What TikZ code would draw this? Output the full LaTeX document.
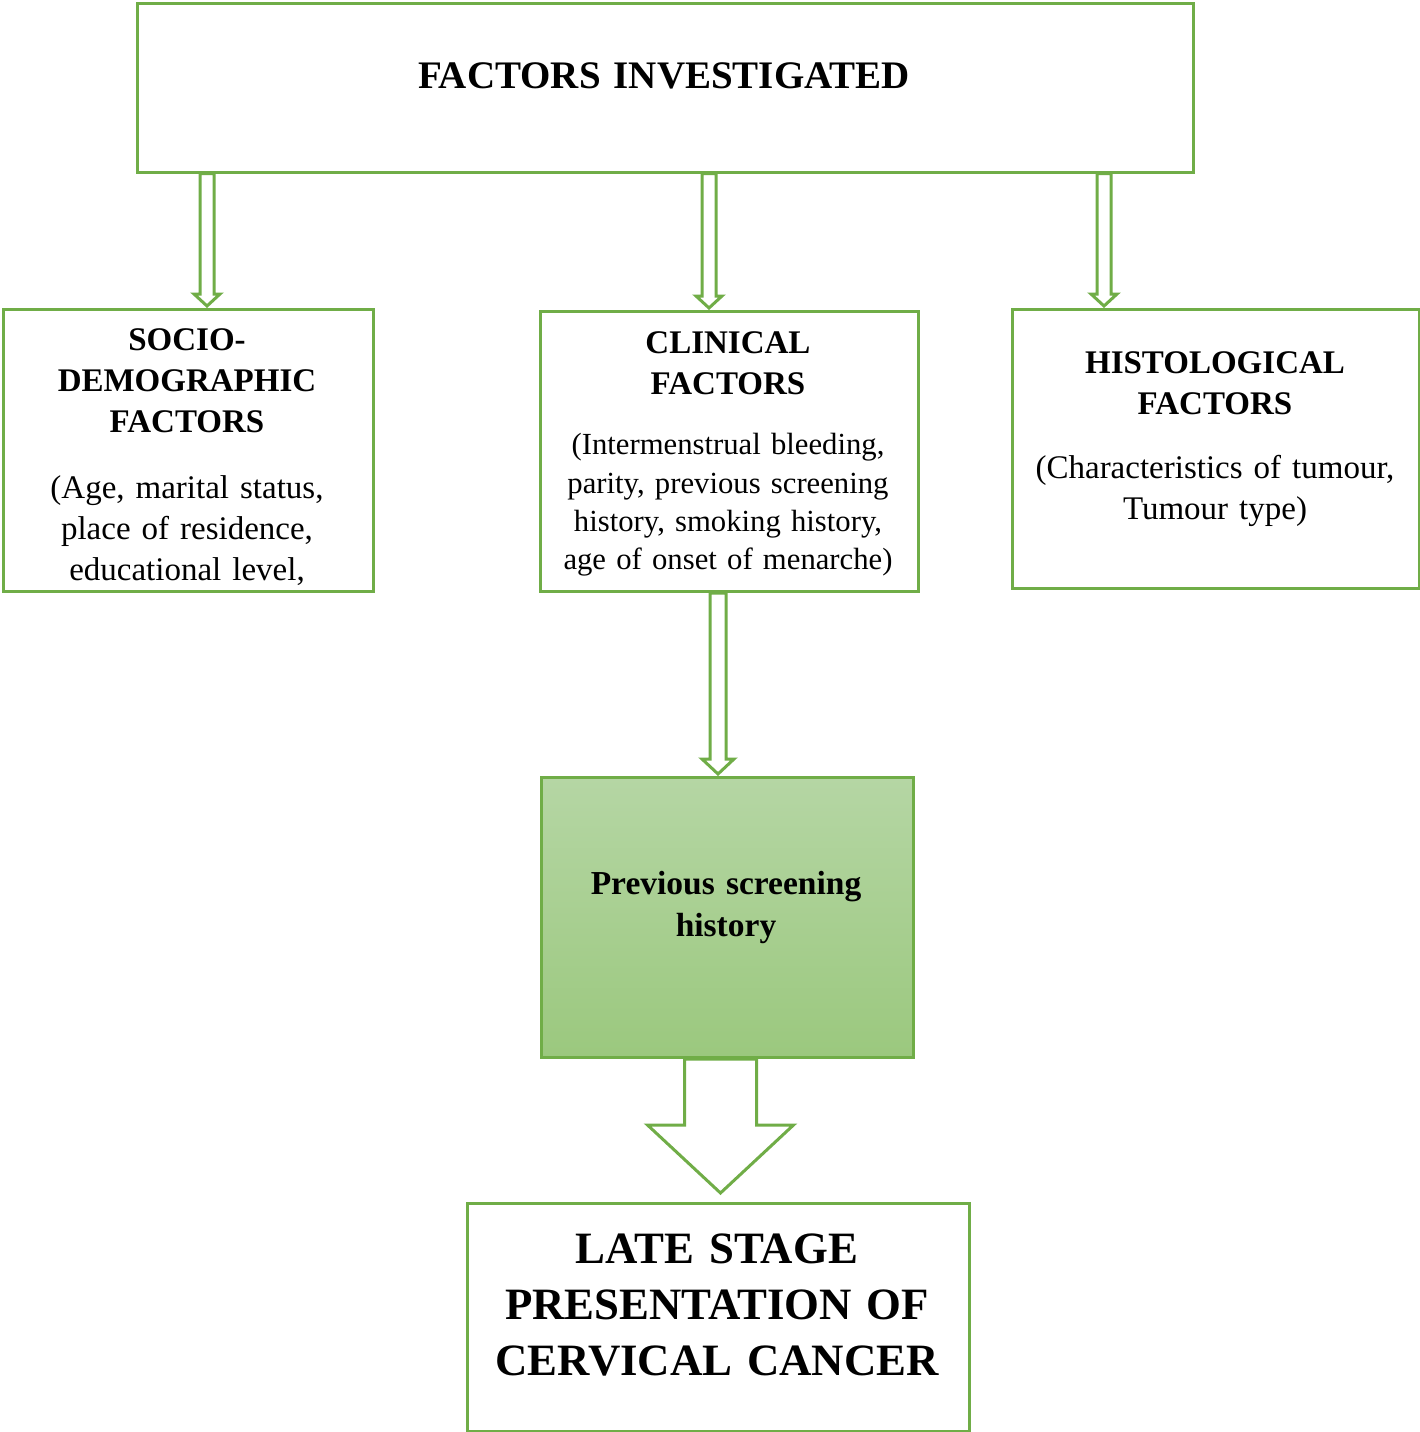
\documentclass[tikz,border=0pt]{standalone}
\usepackage{fontspec}
\setmainfont{Liberation Serif}
\usetikzlibrary{calc}
\definecolor{grn}{RGB}{112,173,71}
\definecolor{gtop}{RGB}{181,214,164}
\definecolor{gbot}{RGB}{155,200,126}
\tikzset{
  box/.style={draw=grn, line width=3pt, fill=white, inner sep=0pt, anchor=north west},
  dblarr/.style={draw=grn, line width=3pt, fill=white, line join=miter},
  lbl/.style={align=center, inner sep=0pt, text=black, text width=440pt},
  ttl/.style={lbl, font=\fontsize{33}{41}\selectfont\bfseries},
  bdy/.style={lbl, font=\fontsize{33}{41}\selectfont},
}
\newcommand\dblarrow[6]{%
  \draw[dblarr] let \p1=#1, \p2=#2 in
   (\x1-#3,\y1) -- (\x1-#3,\y2+#6+#5) -- (\x1-#4,\y2+#6+#5) -- (\x1,\y2+#6)
   -- (\x1+#4,\y2+#6+#5) -- (\x1+#3,\y2+#6+#5) -- (\x1+#3,\y1) -- cycle;}
\begin{document}
\begin{tikzpicture}[x=1pt,y=-1pt]
\useasboundingbox[fill=white] (0,0) rectangle (1420,1432);
% boxes
\node[box, minimum width=1056pt, minimum height=169pt] (top) at (136,1.5) {};
\node[box, minimum width=370pt, minimum height=282pt] (socio) at (2,308) {};
\node[box, minimum width=378pt, minimum height=280pt] (clin) at (539,310) {};
\node[box, minimum width=407pt, minimum height=279pt] (hist) at (1011,308) {};
\node[box, minimum width=372pt, minimum height=280pt, top color=gtop, bottom color=gbot] (prev) at (540,776) {};
\node[box, minimum width=502pt, minimum height=228pt] (late) at (466,1202) {};
% texts
\node[lbl, text width=900pt, font=\fontsize{39}{47}\selectfont\bfseries] (toptxt) at (664,76) {FACTORS INVESTIGATED};
\node[ttl] (sociot) at (187,381) {SOCIO-\\DEMOGRAPHIC\\FACTORS};
\node[bdy] (sociob) at (187,531) {(Age, marital status,\\place of residence,\\educational level,};
\node[ttl] (clint) at (728,363) {CLINICAL\\FACTORS};
\node[lbl, font=\fontsize{30.7}{38.3}\selectfont] (clinb) at (728,505) {(Intermenstrual bleeding,\\parity, previous screening\\history, smoking history,\\age of onset of menarche)};
\node[ttl] (histt) at (1215,383) {HISTOLOGICAL\\FACTORS};
\node[bdy] (histb) at (1215,491) {(Characteristics of tumour,\\Tumour type)};
\node[ttl, font=\fontsize{33.5}{42}\selectfont\bfseries] (prevt) at (726,907) {Previous screening\\history};
\node[lbl, text width=700pt, font=\fontsize{44.8}{56}\selectfont\bfseries] (latet) at (717,1305) {LATE STAGE\\PRESENTATION OF\\CERVICAL CANCER};
% arrows
\dblarrow{(top.south -| 207,0)}{(socio.north -| 207,0)}{7pt}{13pt}{12pt}{2pt}
\dblarrow{(top.south -| 709,0)}{(clin.north -| 709,0)}{7pt}{13pt}{12pt}{2pt}
\dblarrow{(top.south -| 1104,0)}{(hist.north -| 1104,0)}{7pt}{13pt}{12pt}{2pt}
\dblarrow{(clin.south -| 718,0)}{(prev.north -| 718,0)}{8pt}{16pt}{15pt}{2pt}
\dblarrow{(prev.south -| 720.5,0)}{(late.north -| 720.5,0)}{36pt}{73pt}{68pt}{9pt}
\end{tikzpicture}
\end{document}
